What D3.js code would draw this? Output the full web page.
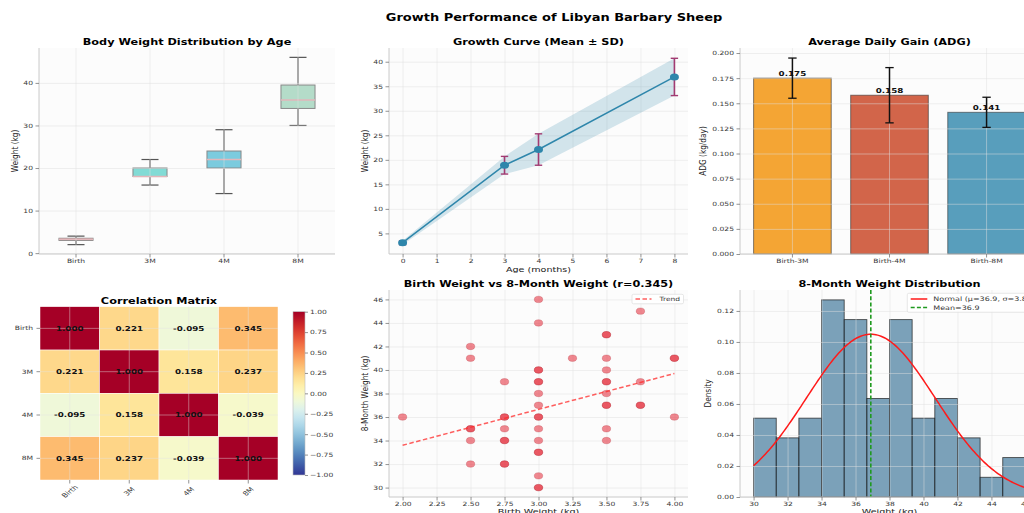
<!DOCTYPE html>
<html>
<head>
<meta charset="utf-8">
<script src="https://cdn.jsdelivr.net/npm/d3@7"></script>
<style>
  body { margin: 0; background: #fff; }
  svg { display: block; font-family: "DejaVu Sans", sans-serif; }
</style>
</head>
<body>
<svg id="fig" width="1024" height="513"></svg>
<script>
// ---------- data ----------
const ageGroups = ["Birth", "3M", "4M", "8M"];
const boxLow    = [2.0, 16, 14, 30];
const boxQ1     = [3.0, 18, 20, 34];
const boxMedian = [3.25, 18, 22, 36];
const boxQ3     = [3.5, 20, 24, 39.5];
const boxHigh   = [4.0, 22, 29, 46];
const boxColors = ["#FF6B6B", "#4ECDC4", "#45B7D1", "#96CEB4"];

const ageMonths  = [0, 3, 4, 8];
const meanWeight = [3.1, 18.9, 22.1, 36.9];
const sdWeight   = [0.4, 1.8, 3.2, 3.8];

const adgPeriods = ["Birth-3M", "Birth-4M", "Birth-8M"];
const adgMean    = [0.175, 0.158, 0.141];
const adgSD      = [0.020, 0.0275, 0.015];
const adgColors  = ["#F18F01", "#C73E1D", "#2E86AB"];

const corrMatrix = [
  [1.000, 0.221, -0.095, 0.345],
  [0.221, 1.000, 0.158, 0.237],
  [-0.095, 0.158, 1.000, -0.039],
  [0.345, 0.237, -0.039, 1.000]
];

// birth weight (kg), 8-month weight (kg)
const birthW = [2.0,
  2.5, 2.5, 2.5, 2.5, 2.5, 2.5,
  2.75, 2.75, 2.75, 2.75, 2.75, 2.75, 2.75, 2.75,
  3.0, 3.0, 3.0, 3.0, 3.0, 3.0, 3.0, 3.0, 3.0, 3.0, 3.0, 3.0, 3.0, 3.0, 3.0, 3.0, 3.0,
  3.25,
  3.5, 3.5, 3.5, 3.5, 3.5, 3.5, 3.5, 3.5, 3.5, 3.5, 3.5,
  3.75, 3.75, 3.75, 3.75,
  4.0, 4.0, 4.0];
const month8W = [36,
  42, 41, 35, 35, 34, 32,
  39, 36, 36, 35, 34, 34, 32, 32,
  46, 44, 40, 40, 39, 39, 38, 37, 36, 36, 35, 34, 33, 33, 31, 30, 30,
  41,
  43, 43, 41, 40, 39, 39, 38, 37, 37, 35, 34,
  45, 39, 37, 37,
  41, 41, 36];
const trendX = [2.0, 4.0];
const trendY = [33.6, 39.7];
const corrBirth8M = 0.345;

const histStart = 30, histEnd = 46;
const histCounts = [4, 3, 4, 10, 9, 5, 9, 4, 5, 3, 1, 2];
const histN = 59;
const w8Mu = 36.9, w8Sigma = 3.8;

// ---------- helpers ----------
const SY = 0.77;                       // vertical text compression
const FONT = '"DejaVu Sans", sans-serif';
const GRID = "#e0e0e0", GRID_OP = 0.6;
const svg = d3.select("#fig");

function label(parent, x, y, str, o = {}) {
  const tr = o.rotate
    ? `translate(${x},${y}) rotate(-90) scale(${SY},1)`
    : `translate(${x},${y}) scale(1,${SY})`;
  return parent.append("text")
    .attr("transform", tr)
    .attr("text-anchor", o.anchor || "middle")
    .attr("dy", o.dy || null)
    .attr("fill", o.color || "#222")
    .style("font-size", (o.size || 9.6) + "px")
    .style("font-weight", o.bold ? "bold" : "normal")
    .text(str);
}

function styleAxis(a) {
  a.attr("font-family", FONT);
  a.select(".domain").remove();
  a.selectAll(".tick line").attr("stroke", "#777").attr("stroke-width", 0.8);
  a.selectAll(".tick text")
    .attr("fill", "#3a3a3a")
    .style("font-size", "7.6px")
    .attr("transform", `scale(1,${SY})`);
  return a;
}

function panel(P) {
  const g = svg.append("g").attr("transform", `translate(${P.x},${P.y})`);
  g.append("rect").attr("width", P.w).attr("height", P.h).attr("fill", "#fcfcfc");
  return g;
}

function spines(g, P) {
  g.append("line").attr("x1", 0).attr("x2", 0).attr("y1", 0).attr("y2", P.h)
    .attr("stroke", "#c4c4c4").attr("stroke-width", 0.9);
  g.append("line").attr("x1", 0).attr("x2", P.w).attr("y1", P.h).attr("y2", P.h)
    .attr("stroke", "#c4c4c4").attr("stroke-width", 0.9);
}

function grid(g, P, xs, xv, ys, yv) {
  const gx = g.append("g").attr("transform", `translate(0,${P.h})`)
    .call(d3.axisBottom(xs).tickValues(xv).tickSize(-P.h).tickFormat(""));
  const gy = g.append("g")
    .call(d3.axisLeft(ys).tickValues(yv).tickSize(-P.w).tickFormat(""));
  [gx, gy].forEach(a => {
    a.select(".domain").remove();
    a.selectAll("line").attr("stroke", GRID).attr("stroke-opacity", GRID_OP).attr("stroke-width", 0.8);
  });
}

function axes(g, P, xAxis, yAxis) {
  styleAxis(g.append("g").attr("transform", `translate(0,${P.h})`)
    .call(xAxis.tickSize(3.5).tickPadding(2.4)));
  styleAxis(g.append("g").call(yAxis.tickSize(3.5).tickPadding(2.5)));
}

// ---------- figure title ----------
label(svg, 554, 21, "Growth Performance of Libyan Barbary Sheep", { bold: true, size: 13, color: "#000" });

// ---------- 1. box plot ----------
{
  const P = { x: 39, y: 48, w: 296, h: 206 };
  const g = panel(P);
  const x = d3.scaleBand().domain(ageGroups).range([0, P.w]);
  const y = d3.scaleLinear().domain([-0.2, 48.2]).range([P.h, 0]);
  const bw = x.bandwidth() * 0.46;
  const yTicks = [0, 10, 20, 30, 40];

  const boxes = ageGroups.map((k, i) => ({
    k, lo: boxLow[i], q1: boxQ1[i], med: boxMedian[i], q3: boxQ3[i], hi: boxHigh[i], c: boxColors[i]
  }));
  const bg = g.selectAll("g.box").data(boxes).join("g").attr("class", "box")
    .attr("transform", d => `translate(${x(d.k) + x.bandwidth() / 2},0)`);
  const wk = { stroke: "#555", width: 1.2 };
  bg.append("line").attr("y1", d => y(d.lo)).attr("y2", d => y(d.q1))
    .attr("stroke", wk.stroke).attr("stroke-width", wk.width);
  bg.append("line").attr("y1", d => y(d.q3)).attr("y2", d => y(d.hi))
    .attr("stroke", wk.stroke).attr("stroke-width", wk.width);
  bg.append("line").attr("x1", -bw / 4).attr("x2", bw / 4).attr("y1", d => y(d.lo)).attr("y2", d => y(d.lo))
    .attr("stroke", wk.stroke).attr("stroke-width", wk.width);
  bg.append("line").attr("x1", -bw / 4).attr("x2", bw / 4).attr("y1", d => y(d.hi)).attr("y2", d => y(d.hi))
    .attr("stroke", wk.stroke).attr("stroke-width", wk.width);
  bg.append("rect").attr("x", -bw / 2).attr("width", bw)
    .attr("y", d => y(d.q3)).attr("height", d => y(d.q1) - y(d.q3))
    .attr("fill", d => d.c).attr("fill-opacity", 0.7)
    .attr("stroke", "#888").attr("stroke-width", 1);
  bg.append("line").attr("x1", -bw / 2).attr("x2", bw / 2).attr("y1", d => y(d.med)).attr("y2", d => y(d.med))
    .attr("stroke", "#e2b6ba").attr("stroke-width", 1.4);

  grid(g, P, x, ageGroups, y, yTicks);
  spines(g, P);
  axes(g, P, d3.axisBottom(x), d3.axisLeft(y).tickValues(yTicks));
  label(svg, P.x + P.w / 2, 45, "Body Weight Distribution by Age", { bold: true, size: 11.3, color: "#000" });
  label(svg, 15, P.y + P.h / 2, "Weight (kg)", { rotate: true, dy: "0.35em" });
}

// ---------- 2. growth curve ----------
{
  const P = { x: 389, y: 48, w: 299, h: 206 };
  const g = panel(P);
  const x = d3.scaleLinear().domain([-0.4, 8.4]).range([0, P.w]);
  const y = d3.scaleLinear().domain([0.8, 42.8]).range([P.h, 0]);
  const xTicks = d3.range(0, 9);
  const yTicks = [5, 10, 15, 20, 25, 30, 35, 40];
  grid(g, P, x, xTicks, y, yTicks);

  const pts = ageMonths.map((m, i) => ({ m, mean: meanWeight[i], sd: sdWeight[i] }));
  g.append("path").datum(pts)
    .attr("d", d3.area().x(d => x(d.m)).y0(d => y(d.mean - d.sd)).y1(d => y(d.mean + d.sd)))
    .attr("fill", "#2E86AB").attr("fill-opacity", 0.2);

  const eb = g.selectAll("g.eb").data(pts).join("g").attr("class", "eb")
    .attr("transform", d => `translate(${x(d.m)},0)`);
  eb.append("line").attr("y1", d => y(d.mean - d.sd)).attr("y2", d => y(d.mean + d.sd))
    .attr("stroke", "#A23B72").attr("stroke-width", 1.6);
  [-1, 1].forEach(s => {
    eb.append("line").attr("x1", -3.7).attr("x2", 3.7)
      .attr("y1", d => y(d.mean + s * d.sd)).attr("y2", d => y(d.mean + s * d.sd))
      .attr("stroke", "#A23B72").attr("stroke-width", 1.4);
  });

  g.append("path").datum(pts)
    .attr("d", d3.line().x(d => x(d.m)).y(d => y(d.mean)))
    .attr("fill", "none").attr("stroke", "#2E86AB").attr("stroke-width", 1.5);
  g.selectAll("ellipse.pt").data(pts).join("ellipse").attr("class", "pt")
    .attr("cx", d => x(d.m)).attr("cy", d => y(d.mean)).attr("rx", 4.5).attr("ry", 3.5)
    .attr("fill", "#2E86AB");

  spines(g, P);
  axes(g, P, d3.axisBottom(x).tickValues(xTicks), d3.axisLeft(y).tickValues(yTicks));
  label(svg, P.x + P.w / 2, 45, "Growth Curve (Mean \u00b1 SD)", { bold: true, size: 11.3, color: "#000" });
  label(svg, 365, P.y + P.h / 2, "Weight (kg)", { rotate: true, dy: "0.35em" });
  label(svg, P.x + P.w / 2, 272, "Age (months)");
}

// ---------- 3. average daily gain ----------
{
  const P = { x: 740, y: 48, w: 299, h: 206 };
  const g = panel(P);
  const x = d3.scaleBand().domain(adgPeriods).range([0, P.w]).paddingInner(0.2).paddingOuter(0.14);
  const y = d3.scaleLinear().domain([0, 0.205]).range([P.h, 0]);
  const yTicks = d3.range(0, 0.2001, 0.025);

  const bars = adgPeriods.map((k, i) => ({ k, v: adgMean[i], sd: adgSD[i], c: adgColors[i] }));
  g.selectAll("rect.bar").data(bars).join("rect").attr("class", "bar")
    .attr("x", d => x(d.k)).attr("width", x.bandwidth())
    .attr("y", d => y(d.v)).attr("height", d => y(0) - y(d.v))
    .attr("fill", d => d.c).attr("fill-opacity", 0.8)
    .attr("stroke", "#333").attr("stroke-opacity", 0.6).attr("stroke-width", 1);

  grid(g, P, x, adgPeriods, y, yTicks);

  const eb = g.selectAll("g.eb").data(bars).join("g").attr("class", "eb")
    .attr("transform", d => `translate(${x(d.k) + x.bandwidth() / 2},0)`);
  eb.append("line").attr("y1", d => y(d.v - d.sd)).attr("y2", d => y(d.v + d.sd))
    .attr("stroke", "#111").attr("stroke-width", 1.5);
  [-1, 1].forEach(s => {
    eb.append("line").attr("x1", -4.2).attr("x2", 4.2)
      .attr("y1", d => y(d.v + s * d.sd)).attr("y2", d => y(d.v + s * d.sd))
      .attr("stroke", "#111").attr("stroke-width", 1.3);
  });
  bars.forEach(d => {
    label(g, x(d.k) + x.bandwidth() / 2, y(d.v) - 2.5, d.v.toFixed(3), { bold: true, size: 8.75, color: "#111" });
  });

  spines(g, P);
  axes(g, P, d3.axisBottom(x), d3.axisLeft(y).tickValues(yTicks).tickFormat(d3.format(".3f")));
  label(svg, P.x + P.w / 2, 45, "Average Daily Gain (ADG)", { bold: true, size: 11.3, color: "#000" });
  label(svg, 703, P.y + P.h / 2, "ADG (kg/day)", { rotate: true, dy: "0.35em" });
}

// ---------- 4. correlation heatmap ----------
{
  const P = { x: 40, y: 306.7, w: 238, h: 173.3 };
  const g = svg.append("g").attr("transform", `translate(${P.x},${P.y})`);
  const x = d3.scaleBand().domain(ageGroups).range([0, P.w]);
  const y = d3.scaleBand().domain(ageGroups).range([0, P.h]);
  const color = d3.scaleSequential(d3.interpolateRdYlBu).domain([1, -1]);

  const cells = [];
  corrMatrix.forEach((row, i) => row.forEach((v, j) => cells.push({ r: ageGroups[i], c: ageGroups[j], v })));
  g.selectAll("rect.cell").data(cells).join("rect").attr("class", "cell")
    .attr("x", d => x(d.c)).attr("y", d => y(d.r))
    .attr("width", x.bandwidth()).attr("height", y.bandwidth())
    .attr("fill", d => color(d.v))
    .attr("stroke", "#fff").attr("stroke-width", 0.5);

  // grid lines through cell centres
  const gx = g.append("g").attr("transform", `translate(0,${P.h})`)
    .call(d3.axisBottom(x).tickSize(-P.h).tickFormat(""));
  const gy = g.append("g").call(d3.axisLeft(y).tickSize(-P.w).tickFormat(""));
  [gx, gy].forEach(a => {
    a.select(".domain").remove();
    a.selectAll("line").attr("stroke", "#e4e4e4").attr("stroke-opacity", 0.55).attr("stroke-width", 0.8);
  });

  cells.forEach(d => {
    label(g, x(d.c) + x.bandwidth() / 2, y(d.r) + y.bandwidth() / 2, d.v.toFixed(3),
      { bold: true, size: 8.75, color: "#111", dy: "0.36em" });
  });

  const ax = g.append("g").attr("transform", `translate(0,${P.h})`)
    .call(d3.axisBottom(x).tickSize(3.5));
  styleAxis(ax);
  ax.selectAll(".tick text")
    .attr("y", 0).attr("dy", "0.35em").attr("text-anchor", "middle")
    .style("font-size", "8px")
    .attr("transform", `translate(0,11.5) scale(1,${SY}) rotate(-45)`);
  styleAxis(g.append("g").call(d3.axisLeft(y).tickSize(3.5).tickPadding(3.5)));

  // colour bar
  const CB = { x: 293, y: 311.7, w: 12, h: 163.3 };
  const defs = svg.append("defs");
  const grad = defs.append("linearGradient").attr("id", "corrScale")
    .attr("x1", 0).attr("y1", 1).attr("x2", 0).attr("y2", 0);
  d3.range(0, 1.0001, 0.05).forEach(t => {
    grad.append("stop").attr("offset", t).attr("stop-color", color(-1 + 2 * t));
  });
  const cb = svg.append("g").attr("transform", `translate(${CB.x},${CB.y})`);
  cb.append("rect").attr("width", CB.w).attr("height", CB.h)
    .attr("fill", "url(#corrScale)").attr("stroke", "#bbb").attr("stroke-width", 0.6);
  const cs = d3.scaleLinear().domain([-1, 1]).range([CB.h, 0]);
  styleAxis(cb.append("g").attr("transform", `translate(${CB.w},0)`)
    .call(d3.axisRight(cs).tickValues(d3.range(-1, 1.001, 0.25)).tickFormat(d3.format(".2f"))
      .tickSize(3).tickPadding(2)));

  label(svg, P.x + P.w / 2, 304, "Correlation Matrix", { bold: true, size: 11.3, color: "#000" });
}

// ---------- 5. birth vs 8-month scatter ----------
{
  const P = { x: 389, y: 290, w: 299, h: 207 };
  const g = panel(P);
  const x = d3.scaleLinear().domain([1.9, 4.1]).range([0, P.w]);
  const y = d3.scaleLinear().domain([29.2, 46.8]).range([P.h, 0]);
  const xTicks = d3.range(2, 4.001, 0.25);
  const yTicks = d3.range(30, 46.01, 2);
  grid(g, P, x, xTicks, y, yTicks);

  const pts = birthW.map((b, i) => ({ b, w: month8W[i] }));
  g.selectAll("ellipse.pt").data(pts).join("ellipse").attr("class", "pt")
    .attr("cx", d => x(d.b)).attr("cy", d => y(d.w)).attr("rx", 4.2).attr("ry", 3.2)
    .attr("fill", "#E63946").attr("fill-opacity", 0.6)
    .attr("stroke", "#b02a36").attr("stroke-opacity", 0.45).attr("stroke-width", 0.6);

  g.append("path").datum(trendX.map((t, i) => [t, trendY[i]]))
    .attr("d", d3.line().x(d => x(d[0])).y(d => y(d[1])))
    .attr("fill", "none").attr("stroke", "#ff2a2a").attr("stroke-opacity", 0.75)
    .attr("stroke-width", 1.5).attr("stroke-dasharray", "4.5,2.5");

  spines(g, P);
  axes(g, P, d3.axisBottom(x).tickValues(xTicks).tickFormat(d3.format(".2f")),
    d3.axisLeft(y).tickValues(yTicks));

  // legend
  const lg = svg.append("g").attr("transform", "translate(632,294.3)");
  lg.append("rect").attr("width", 51.5).attr("height", 9.5).attr("rx", 1.5)
    .attr("fill", "#fff").attr("fill-opacity", 0.85).attr("stroke", "#ddd").attr("stroke-width", 0.7);
  lg.append("line").attr("x1", 3.5).attr("x2", 19.5).attr("y1", 4.8).attr("y2", 4.8)
    .attr("stroke", "#ff2a2a").attr("stroke-opacity", 0.75).attr("stroke-width", 1.5)
    .attr("stroke-dasharray", "4.5,2.5");
  label(lg, 27.5, 4.8, "Trend", { anchor: "start", size: 7.5, dy: "0.35em", color: "#333" });

  label(svg, P.x + P.w / 2, 287.3, `Birth Weight vs 8-Month Weight (r=${corrBirth8M.toFixed(3)})`,
    { bold: true, size: 11.3, color: "#000" });
  label(svg, 365, P.y + P.h / 2, "8-Month Weight (kg)", { rotate: true, dy: "0.35em" });
  label(svg, P.x + P.w / 2, 513.5, "Birth Weight (kg)");
}

// ---------- 6. 8-month weight histogram ----------
{
  const P = { x: 740, y: 290, w: 299, h: 207 };
  const g = panel(P);
  const x = d3.scaleLinear().domain([29.2, 46.8]).range([0, P.w]);
  const y = d3.scaleLinear().domain([0, 0.1335]).range([P.h, 0]);
  const xTicks = d3.range(30, 46.01, 2);
  const yTicks = d3.range(0, 0.1201, 0.02);

  const binW = (histEnd - histStart) / histCounts.length;
  const bins = histCounts.map((c, i) => ({
    x0: histStart + i * binW, x1: histStart + (i + 1) * binW, d: c / (histN * binW)
  }));
  g.selectAll("rect.bin").data(bins).join("rect").attr("class", "bin")
    .attr("x", d => x(d.x0)).attr("width", d => x(d.x1) - x(d.x0))
    .attr("y", d => y(d.d)).attr("height", d => y(0) - y(d.d))
    .attr("fill", "#457B9D").attr("fill-opacity", 0.7)
    .attr("stroke", "#1a1a1a").attr("stroke-opacity", 0.75).attr("stroke-width", 0.9);

  grid(g, P, x, xTicks, y, yTicks);

  const pdf = v => Math.exp(-0.5 * ((v - w8Mu) / w8Sigma) ** 2) / (w8Sigma * Math.sqrt(2 * Math.PI));
  const curveX = d3.range(histStart, histEnd + 0.001, 0.1);
  g.append("path").datum(curveX)
    .attr("d", d3.line().x(v => x(v)).y(v => y(pdf(v))))
    .attr("fill", "none").attr("stroke", "#ff1a1a").attr("stroke-width", 1.5);

  g.append("line").attr("x1", x(w8Mu)).attr("x2", x(w8Mu)).attr("y1", 0).attr("y2", P.h)
    .attr("stroke", "#1f9a1f").attr("stroke-width", 1.6).attr("stroke-dasharray", "4,2.2");

  spines(g, P);
  axes(g, P, d3.axisBottom(x).tickValues(xTicks),
    d3.axisLeft(y).tickValues(yTicks).tickFormat(d3.format(".2f")));

  // legend
  const lg = svg.append("g").attr("transform", "translate(907.3,293.3)");
  lg.append("rect").attr("width", 140).attr("height", 19).attr("rx", 1.5)
    .attr("fill", "#fff").attr("fill-opacity", 0.85).attr("stroke", "#ddd").attr("stroke-width", 0.7);
  lg.append("line").attr("x1", 3.4).attr("x2", 20).attr("y1", 5.7).attr("y2", 5.7)
    .attr("stroke", "#ff1a1a").attr("stroke-width", 1.5);
  label(lg, 26, 5.7, `Normal (\u03bc=${w8Mu.toFixed(1)}, \u03c3=${w8Sigma.toFixed(1)})`,
    { anchor: "start", size: 8, dy: "0.35em", color: "#333" });
  lg.append("line").attr("x1", 3.4).attr("x2", 20).attr("y1", 14.2).attr("y2", 14.2)
    .attr("stroke", "#1f9a1f").attr("stroke-width", 1.5).attr("stroke-dasharray", "4,2.2");
  label(lg, 26, 14.2, `Mean=${w8Mu.toFixed(1)}`, { anchor: "start", size: 8, dy: "0.35em", color: "#333" });

  label(svg, P.x + P.w / 2, 287.3, "8-Month Weight Distribution", { bold: true, size: 11.3, color: "#000" });
  label(svg, 708, P.y + P.h / 2, "Density", { rotate: true, dy: "0.35em" });
  label(svg, P.x + P.w / 2, 513.5, "Weight (kg)");
}
</script>
</body>
</html>
